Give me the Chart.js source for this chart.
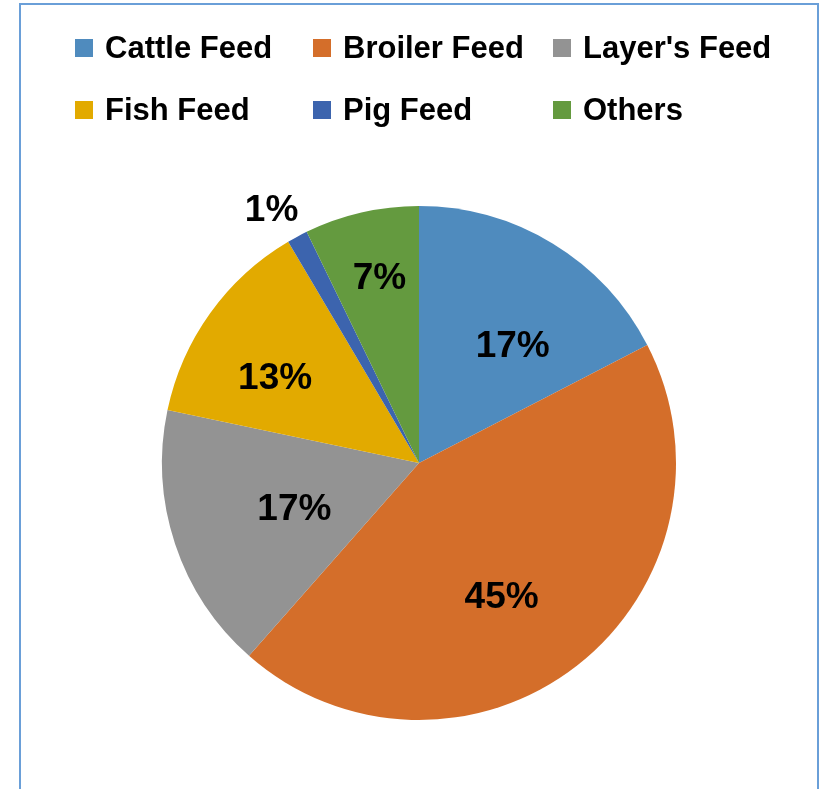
<!DOCTYPE html>
<html>
<head>
<meta charset="utf-8">
<script src="https://cdn.jsdelivr.net/npm/chart.js@4/dist/chart.umd.min.js"></script>
<style>
  html, body { margin: 0; padding: 0; background: #ffffff; overflow: hidden; }
  #frame { position: absolute; left: 19px; top: 3px; width: 800px; height: 800px;
           border: 2px solid #6a9fd8; box-sizing: border-box; }
  #wrap { position: absolute; left: 0; top: 0; width: 823px; height: 789px; }
  #legend { position: absolute; left: 0; top: 0; width: 823px; height: 140px;
            font-family: "Liberation Sans", Arial, sans-serif; font-weight: bold;
            font-size: 31px; color: #000; }
  .item { position: absolute; display: flex; align-items: center; white-space: nowrap; }
  .box { width: 18px; height: 18px; margin-right: 12px; }
</style>
</head>
<body>
<div id="frame"></div>
<div id="wrap"><canvas id="c" width="823" height="789"></canvas></div>
<div id="legend"></div>
<script>
const categories = ["Cattle Feed", "Broiler Feed", "Layer's Feed", "Fish Feed", "Pig Feed", "Others"];
const shares = [17.4, 44.1, 16.8, 13.2, 1.3, 7.2];
const shareLabels = ["17%", "45%", "17%", "13%", "1%", "7%"];
const colors = ["#4F8BBE", "#D46E2A", "#939393", "#E2AA00", "#3C64AE", "#649A3F"];

// HTML legend laid out in a 3-column grid like the original
const legendCols = [75, 313, 553];
const legendRows = [48, 110];
const legendEl = document.getElementById('legend');
categories.forEach((name, i) => {
  const it = document.createElement('div');
  it.className = 'item';
  it.style.left = legendCols[i % 3] + 'px';
  it.style.top = (legendRows[Math.floor(i / 3)] - 18) + 'px';
  it.style.height = '36px';
  const b = document.createElement('span');
  b.className = 'box';
  b.style.background = colors[i];
  const t = document.createElement('span');
  t.textContent = name;
  it.appendChild(b); it.appendChild(t);
  legendEl.appendChild(it);
});

// label placement: fraction of radius and angular shift (deg) from slice middle
const labelRadius = [0.588, 0.607, 0.514, 0.654, 1.145, 0.743];
const labelShift = [7, 6, -1, -4.5, -1.8, 1];

const labelPlugin = {
  id: 'sliceLabels',
  afterDatasetsDraw(chart) {
    const ctx = chart.ctx;
    const meta = chart.getDatasetMeta(0);
    ctx.save();
    ctx.font = 'bold 37px "Liberation Sans", Arial, sans-serif';
    ctx.fillStyle = '#000';
    ctx.textAlign = 'center';
    ctx.textBaseline = 'alphabetic';
    meta.data.forEach((arc, i) => {
      const p = arc.getProps(['x', 'y', 'startAngle', 'endAngle', 'outerRadius'], true);
      const mid = (p.startAngle + p.endAngle) / 2 + labelShift[i] * Math.PI / 180;
      const r = p.outerRadius * labelRadius[i];
      const x = p.x + Math.cos(mid) * r;
      const y = p.y + Math.sin(mid) * r;
      const txt = shareLabels[i];
      const m = ctx.measureText(txt);
      const off = (m.actualBoundingBoxAscent - m.actualBoundingBoxDescent) / 2;
      ctx.fillText(txt, x, y + off);
    });
    ctx.restore();
  }
};

new Chart(document.getElementById('c'), {
  type: 'pie',
  data: {
    labels: categories,
    datasets: [{ data: shares, backgroundColor: colors, borderWidth: 0 }]
  },
  options: {
    responsive: false,
    animation: false,
    layout: { padding: { left: 162, right: 147, top: 206, bottom: 69 } },
    plugins: { legend: { display: false }, tooltip: { enabled: false } }
  },
  plugins: [labelPlugin]
});
</script>
</body>
</html>
